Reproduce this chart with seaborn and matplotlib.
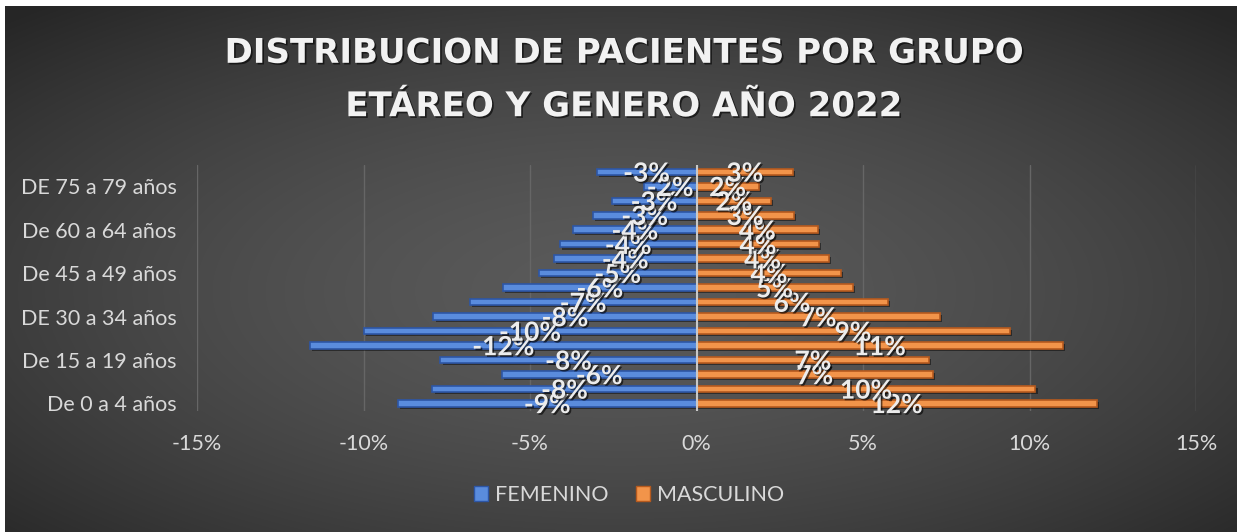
import numpy as np
import pandas as pd
import matplotlib
matplotlib.use("Agg")
import matplotlib.pyplot as plt
import seaborn as sns
from matplotlib import patheffects as pe
from matplotlib.patches import Patch

# ---------------- data ----------------
age_groups = ["De 0 a 4 años", "De 5 a 9 años", "De 10 a 14 años", "De 15 a 19 años",
              "De 20 a 24 años", "De 25 a 29 años", "DE 30 a 34 años", "De 35 a 39 años",
              "De 40 a 44 años", "De 45 a 49 años", "De 50 a 54 años", "De 55 a 59 años",
              "De 60 a 64 años", "De 65 a 69 años", "De 70 a 74 años", "DE 75 a 79 años",
              "De 80 años y más"]
femenino = [-8.96, -7.93, -5.84, -7.69, -11.6, -10.0, -7.90, -6.81, -5.80, -4.73,
            -4.28, -4.10, -3.70, -3.11, -2.55, -1.58, -3.00]
masculino = [12.02, 10.18, 7.10, 6.99, 11.0, 9.40, 7.30, 5.74, 4.69, 4.35,
             3.97, 3.69, 3.65, 2.92, 2.24, 1.87, 2.90]
series_names = ["FEMENINO", "MASCULINO"]
x_ticks = [-15, -10, -5, 0, 5, 10, 15]
title_lines = ["DISTRIBUCION DE PACIENTES POR GRUPO", "ETÁREO Y GENERO AÑO 2022"]

# ---------------- style ----------------
sns.set_theme(style="white")
plt.rcParams["font.family"] = ["Lato", "DejaVu Sans"]

W, H = 1237, 532
fig = plt.figure(figsize=(W / 100, H / 100), dpi=100, facecolor="white")

# background radial gradient (chart area)
bx0, by0 = 5, 6
bg_ax = fig.add_axes([bx0 / W, 0, (W - bx0) / W, (H - by0) / H], zorder=0)
gw, gh = W - bx0, H - by0
yy, xx = np.mgrid[0:gh, 0:gw]
cx, cy = 615, 285
d = np.sqrt(((xx - cx) / (gw * 0.72)) ** 2 + ((yy - cy) / (gh * 0.72)) ** 2)
d = np.clip(d, 0, 1) ** 1.6
c0, c1 = 0x5a / 255, 0x26 / 255
img = c0 + (c1 - c0) * d
bg_ax.imshow(np.dstack([img, img, img]), aspect="auto", interpolation="bilinear")
bg_ax.axis("off")

# main axes
left, right = 197, 1196
top, bottom = 164.6, 410.6
ax = fig.add_axes([left / W, 1 - bottom / H, (right - left) / W, (bottom - top) / H], zorder=1)
ax.set_facecolor("none")

order = age_groups[::-1]
blue, blue_edge = "#5A8CDD", "#2D56A6"
orange, orange_edge = "#F2944A", "#B65A1E"
shadow = [pe.SimplePatchShadow(offset=(1.5, -1.5), alpha=0.45, shadow_rgbFace="black"), pe.Normal()]

df_f = pd.DataFrame({"grupo": age_groups, "valor": femenino})
df_m = pd.DataFrame({"grupo": age_groups, "valor": masculino})
sns.barplot(data=df_f, x="valor", y="grupo", order=order, color=blue, saturation=1,
            edgecolor=blue_edge, linewidth=1.2, width=0.45, orient="h", ax=ax, errorbar=None)
sns.barplot(data=df_m, x="valor", y="grupo", order=order, color=orange, saturation=1,
            edgecolor=orange_edge, linewidth=1.2, width=0.45, orient="h", ax=ax, errorbar=None)
for p in ax.patches:
    p.set_path_effects(shadow)
    p.set_zorder(3)

ax.set_xlim(-15, 15)
ax.set_ylim(len(order) - 0.5, -0.5)
ax.set_xticks(x_ticks)
ax.set_xticklabels([f"{t}%" for t in x_ticks])
show_idx = list(range(0, len(age_groups), 3))
ax.set_yticks([order.index(age_groups[i]) for i in show_idx])
ax.set_yticklabels([age_groups[i] for i in show_idx])
ax.tick_params(axis="both", length=0, colors="#d9d9d9", labelsize=15.5)
ax.tick_params(axis="y", pad=14.5)
ax.tick_params(axis="x", pad=17)
ax.set_xlabel("")
ax.set_ylabel("")
for s in ax.spines.values():
    s.set_visible(False)
ax.grid(axis="x", color="#666666", lw=1, zorder=0)
ax.grid(axis="y", visible=False)
ax.axvline(0, color="#c8c8c8", lw=1.5, zorder=4)

# data labels
txt_shadow = [pe.SimplePatchShadow(offset=(1.2, -1.2), alpha=0.6, shadow_rgbFace="black"), pe.Normal()]
for vals in (femenino, masculino):
    for g, v in zip(age_groups, vals):
        pos = order.index(g)
        ax.text(v / 2, pos + 0.12, f"{round(v)}%", ha="center", va="center",
                fontsize=19, fontweight="bold", color="#ececec", zorder=6,
                path_effects=txt_shadow)

# title
for i, line in enumerate(title_lines):
    fig.text(624 / W, 1 - (53.3 + 53.4 * i) / H, line, ha="center", va="center",
             fontsize=24.5, fontweight="bold", color="#f2f2f2", family="DejaVu Sans",
             path_effects=txt_shadow, zorder=5)

# legend
handles = [Patch(facecolor=blue, edgecolor=blue_edge, label=series_names[0]),
           Patch(facecolor=orange, edgecolor=orange_edge, label=series_names[1])]
leg = fig.legend(handles=handles, loc="center", bbox_to_anchor=(629 / W, 1 - 495 / H),
                 ncol=2, frameon=False, fontsize=15.5, handlelength=0.65, handleheight=0.65,
                 handletextpad=0.3, columnspacing=1.3, borderaxespad=0)
for t in leg.get_texts():
    t.set_color("#d9d9d9")

fig.savefig("out.png", dpi=100, facecolor="white")
